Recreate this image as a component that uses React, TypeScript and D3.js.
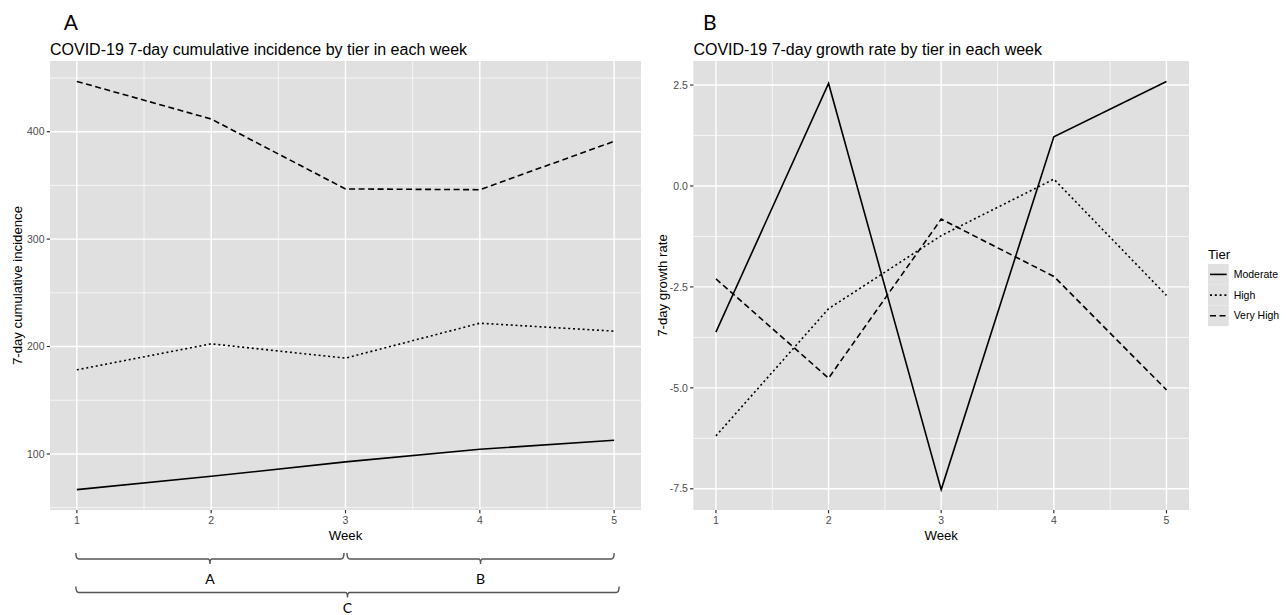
import * as d3 from 'd3'

const WEEKS = [1, 2, 3, 4, 5]
const TIERS = ['Moderate', 'High', 'Very High']

// 7-day cumulative incidence
const incidenceModerate = [66.8, 79.2, 92.6, 104.3, 112.7]
const incidenceHigh = [178.3, 202.5, 189.2, 221.7, 214.3]
const incidenceVeryHigh = [446.8, 411.8, 346.7, 346.0, 391.0]

// 7-day growth rate
const growthModerate = [-3.62, 2.54, -7.52, 1.22, 2.59]
const growthHigh = [-6.19, -3.04, -1.23, 0.17, -2.71]
const growthVeryHigh = [-2.3, -4.76, -0.82, -2.24, -5.05]

const incidenceTicks = [100, 200, 300, 400]
const incidenceMinor = [50, 150, 250, 350, 450]
const growthTicks = [-7.5, -5, -2.5, 0, 2.5]
const growthMinor = [-6.25, -3.75, -1.25, 1.25]
const weekMinor = [1.5, 2.5, 3.5, 4.5]

const BRACKETS = [
  { from: 1, to: 3, label: 'A', row: 0 },
  { from: 3, to: 5, label: 'B', row: 0 },
  { from: 1, to: 5, label: 'C', row: 1 },
]

const W = 1286
const H = 615
const PANEL_TOP = 61
const PANEL_BOTTOM = 510
const PANEL_BG = '#e0e0e0'
const TICK_TEXT = '#4d4d4d'
const FONT = "'Liberation Sans', Arial, Helvetica, sans-serif"
const NOTE_FONT = "Lato, 'Open Sans', sans-serif"

const DASH: Record<string, string | undefined> = {
  Moderate: undefined,
  High: '2,2.8',
  'Very High': '6,3.5',
}

// ggplot-style continuous expansion
function expanded(values: number[]): [number, number] {
  const [lo, hi] = d3.extent(values) as [number, number]
  const pad = (hi - lo) * 0.05
  return [lo - pad, hi + pad]
}

interface PanelProps {
  left: number
  right: number
  series: number[][]
  ticks: number[]
  minor: number[]
  fmt: (v: number) => string
  title: string
  letter: string
  yTitle: string
  yTitleX: number
}

function Panel({ left, right, series, ticks, minor, fmt, title, letter, yTitle, yTitleX }: PanelProps) {
  const x = d3.scaleLinear().domain([0.8, 5.2]).range([left, right])
  const y = d3.scaleLinear().domain(expanded(series.flat())).range([PANEL_BOTTOM, PANEL_TOP])
  const line = d3
    .line<number>()
    .x((_, i) => x(WEEKS[i]))
    .y((d) => y(d))
  const midY = (PANEL_TOP + PANEL_BOTTOM) / 2

  return (
    <g>
      <text x={x(1) - 13} y={30} fontFamily={NOTE_FONT} fontSize={21}>{letter}</text>
      <text x={left} y={54.5} fontFamily={FONT} fontSize={16}>{title}</text>

      <rect x={left} y={PANEL_TOP} width={right - left} height={PANEL_BOTTOM - PANEL_TOP} fill={PANEL_BG} />

      {minor.map((v) => (
        <line key={'ym' + v} x1={left} x2={right} y1={y(v)} y2={y(v)} stroke="#fff" strokeWidth={0.7} />
      ))}
      {weekMinor.map((v) => (
        <line key={'xm' + v} x1={x(v)} x2={x(v)} y1={PANEL_TOP} y2={PANEL_BOTTOM} stroke="#fff" strokeWidth={0.7} />
      ))}
      {ticks.map((v) => (
        <line key={'yM' + v} x1={left} x2={right} y1={y(v)} y2={y(v)} stroke="#fff" strokeWidth={1.4} />
      ))}
      {WEEKS.map((v) => (
        <line key={'xM' + v} x1={x(v)} x2={x(v)} y1={PANEL_TOP} y2={PANEL_BOTTOM} stroke="#fff" strokeWidth={1.4} />
      ))}

      {series.map((s, i) => (
        <path
          key={TIERS[i]}
          d={line(s) ?? ''}
          fill="none"
          stroke="#000"
          strokeWidth={1.6}
          strokeDasharray={DASH[TIERS[i]]}
        />
      ))}

      {/* y axis */}
      {ticks.map((v) => (
        <g key={'yt' + v}>
          <line x1={left - 3.3} x2={left} y1={y(v)} y2={y(v)} stroke="#333" strokeWidth={1.2} />
          <text x={left - 5.5} y={y(v)} dy="0.35em" textAnchor="end" fontFamily={FONT} fontSize={10.5} fill={TICK_TEXT}>
            {fmt(v)}
          </text>
        </g>
      ))}
      {/* x axis */}
      {WEEKS.map((v) => (
        <g key={'xt' + v}>
          <line x1={x(v)} x2={x(v)} y1={PANEL_BOTTOM} y2={PANEL_BOTTOM + 3.3} stroke="#333" strokeWidth={1.2} />
          <text x={x(v)} y={524} textAnchor="middle" fontFamily={FONT} fontSize={10.5} fill={TICK_TEXT}>
            {v}
          </text>
        </g>
      ))}

      <text x={(left + right) / 2} y={540} textAnchor="middle" fontFamily={FONT} fontSize={13.2}>Week</text>
      <text
        transform={`translate(${yTitleX},${midY}) rotate(-90)`}
        dy="0.35em"
        textAnchor="middle"
        fontFamily={FONT}
        fontSize={13.2}
      >
        {yTitle}
      </text>
    </g>
  )
}

function Brackets({ left, right }: { left: number; right: number }) {
  const x = d3.scaleLinear().domain([0.8, 5.2]).range([left, right])
  const rows = [559, 592.5]
  const labelY = [583.5, 612.5]
  return (
    <g stroke="#555" strokeWidth={1.4} fill="none">
      {BRACKETS.map((b) => {
        const x0 = x(b.from) + (b.from === 3 ? 1.5 : -1)
        const x1 = x(b.to) + (b.row === 1 ? 5 : b.to === 3 ? -1.5 : 0)
        const xm = (x0 + x1) / 2
        const yb = rows[b.row]
        const d = `M${x0},${yb - 6} Q${x0},${yb} ${x0 + 3},${yb} L${xm - 2},${yb} Q${xm},${yb} ${xm},${yb + 5} Q${xm},${yb} ${xm + 2},${yb} L${x1 - 3},${yb} Q${x1},${yb} ${x1},${yb - 6}`
        return (
          <g key={b.label}>
            <path d={d} />
            <text
              x={xm}
              y={labelY[b.row]}
              textAnchor="middle"
              fontFamily={NOTE_FONT}
              fontSize={14}
              fill="#000"
              stroke="none"
            >
              {b.label}
            </text>
          </g>
        )
      })}
    </g>
  )
}

function Legend({ x, y }: { x: number; y: number }) {
  const key = 20.7
  return (
    <g>
      <text x={x} y={y} dy="0.35em" fontFamily={FONT} fontSize={13.2}>Tier</text>
      {TIERS.map((t, i) => {
        const cy = y + 20.4 + i * key
        return (
          <g key={t}>
            <rect x={x} y={cy - key / 2} width={key} height={key} fill={PANEL_BG} />
            <line
              x1={x + 2}
              x2={x + key - 2}
              y1={cy}
              y2={cy}
              stroke="#000"
              strokeWidth={1.6}
              strokeDasharray={DASH[t]}
            />
            <text x={x + key + 5} y={cy} dy="0.35em" fontFamily={FONT} fontSize={10.5}>{t}</text>
          </g>
        )
      })}
    </g>
  )
}

export default function App() {
  const fmtInt = (v: number) => String(v)
  const fmtOne = (v: number) => v.toFixed(1)
  return (
    <svg width={W} height={H} style={{ position: 'absolute', left: 0, top: 0, background: '#fff' }}>
      <Panel
        left={50}
        right={641}
        series={[incidenceModerate, incidenceHigh, incidenceVeryHigh]}
        ticks={incidenceTicks}
        minor={incidenceMinor}
        fmt={fmtInt}
        title="COVID-19 7-day cumulative incidence by tier in each week"
        letter="A"
        yTitle="7-day cumulative incidence"
        yTitleX={17}
      />
      <Panel
        left={693.4}
        right={1189}
        series={[growthModerate, growthHigh, growthVeryHigh]}
        ticks={growthTicks}
        minor={growthMinor}
        fmt={fmtOne}
        title="COVID-19 7-day growth rate by tier in each week"
        letter="B"
        yTitle="7-day growth rate"
        yTitleX={662}
      />
      <Brackets left={50} right={641} />
      <Legend x={1208} y={254} />
    </svg>
  )
}
